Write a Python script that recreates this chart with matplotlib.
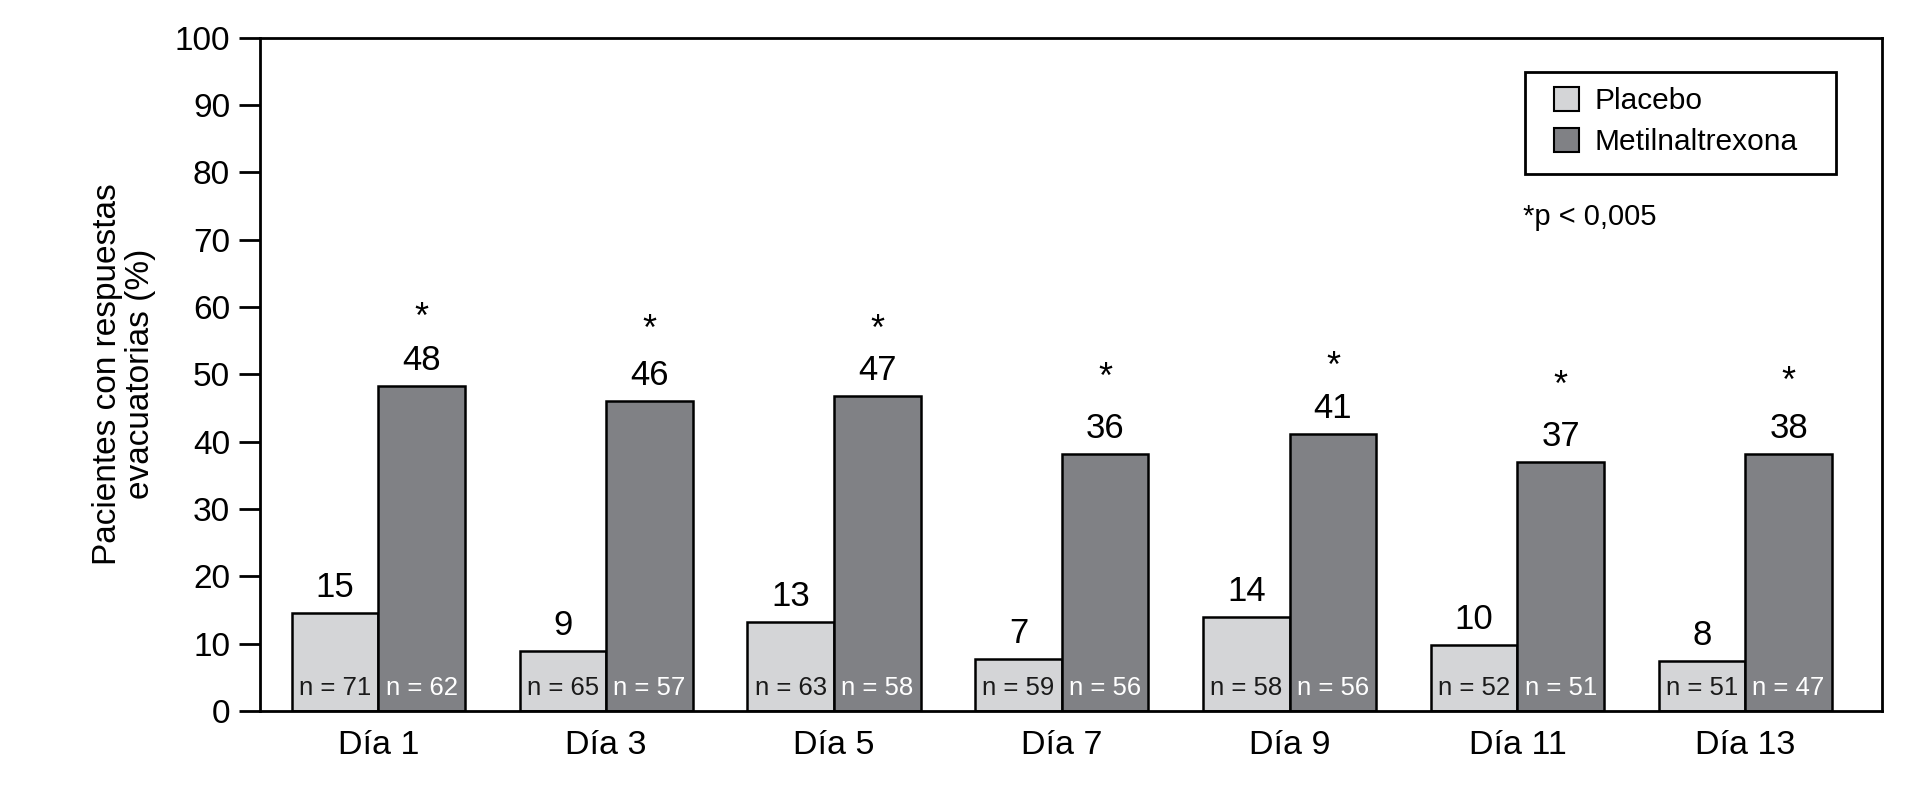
import numpy as np
import matplotlib
matplotlib.use('Agg')
import matplotlib.pyplot as plt
from matplotlib.patches import Patch, Rectangle

plt.rcParams['font.family'] = ['Liberation Sans', 'DejaVu Sans']

dias = ['Día 1', 'Día 3', 'Día 5', 'Día 7', 'Día 9', 'Día 11', 'Día 13']
# bar heights as drawn in the figure
placebo = [14.5, 8.9, 13.2, 7.7, 14.0, 9.8, 7.4]
metil = [48.2, 46.1, 46.8, 38.1, 41.1, 36.9, 38.1]
# printed values
placebo_lbl = ['15', '9', '13', '7', '14', '10', '8']
metil_lbl = ['48', '46', '47', '36', '41', '37', '38']
n_placebo = [71, 65, 63, 59, 58, 52, 51]
n_metil = [62, 57, 58, 56, 56, 51, 47]
# height of the asterisks (centre)
star_y = [60.0, 58.1, 58.1, 51.0, 52.7, 49.8, 50.4]

c_plac = '#d4d5d7'
c_met = '#808185'

fig = plt.figure(figsize=(19.2, 7.95), dpi=100)
ax = fig.add_axes([0.1354, 0.1057, 0.8448, 0.8471])

x = np.arange(len(dias))
w = 0.38
ax.bar(x - w/2, placebo, w, color=c_plac, edgecolor='black', linewidth=1.8, label='Placebo')
ax.bar(x + w/2, metil, w, color=c_met, edgecolor='black', linewidth=1.8, label='Metilnaltrexona')

for i in range(len(dias)):
    ax.annotate(placebo_lbl[i], (x[i] - w/2, placebo[i]), xytext=(0, 11.5), textcoords='offset points',
                ha='center', va='baseline', fontsize=25)
    ax.annotate(metil_lbl[i], (x[i] + w/2, metil[i]), xytext=(0, 11.5), textcoords='offset points',
                ha='center', va='baseline', fontsize=25)
    ax.text(x[i] - w/2, 2.4, 'n = %d' % n_placebo[i], ha='center', va='baseline', fontsize=18.5, color='#1a1a1a')
    ax.text(x[i] + w/2, 2.4, 'n = %d' % n_metil[i], ha='center', va='baseline', fontsize=18.5, color='white')
    ax.annotate('*', (x[i] + w/2, star_y[i]), xytext=(0, -14.8), textcoords='offset points',
                ha='center', va='baseline', fontsize=26)

ax.set_xlim(-0.52, 6.60)
ax.set_ylim(0, 100)
ax.set_yticks(range(0, 101, 10))
ax.set_xticks(x)
ax.set_xticklabels(dias)
ax.tick_params(axis='y', length=15, width=2, pad=6.5, labelsize=24)
ax.tick_params(axis='x', length=0, pad=14, labelsize=24.5)
for s in ax.spines.values():
    s.set_linewidth(2)

ax.set_ylabel('Pacientes con respuestas\nevacuatorias (%)', fontsize=24, linespacing=1.1)
ax.yaxis.set_label_coords(-0.064, 0.5)

# legend box drawn separately, entries placed inside it
ax.add_patch(Rectangle((0.780, 0.797), 0.1916, 0.152, transform=ax.transAxes,
                       facecolor='white', edgecolor='black', linewidth=2, zorder=4))
handles = [Patch(facecolor=c_plac, edgecolor='black', linewidth=1.5),
           Patch(facecolor=c_met, edgecolor='black', linewidth=1.5)]
leg = ax.legend(handles, ['Placebo', 'Metilnaltrexona'], loc='upper left',
                bbox_to_anchor=(0.7978, 0.9265), fontsize=21.5, frameon=False,
                borderpad=0, labelspacing=0.43, handlelength=0.84,
                handleheight=0.84, handletextpad=0.5, borderaxespad=0)
leg.set_zorder(5)

ax.text(0.7787, 0.7216, '*p < 0,005', transform=ax.transAxes, ha='left', va='baseline', fontsize=21)

fig.savefig('out.png', dpi=100)
